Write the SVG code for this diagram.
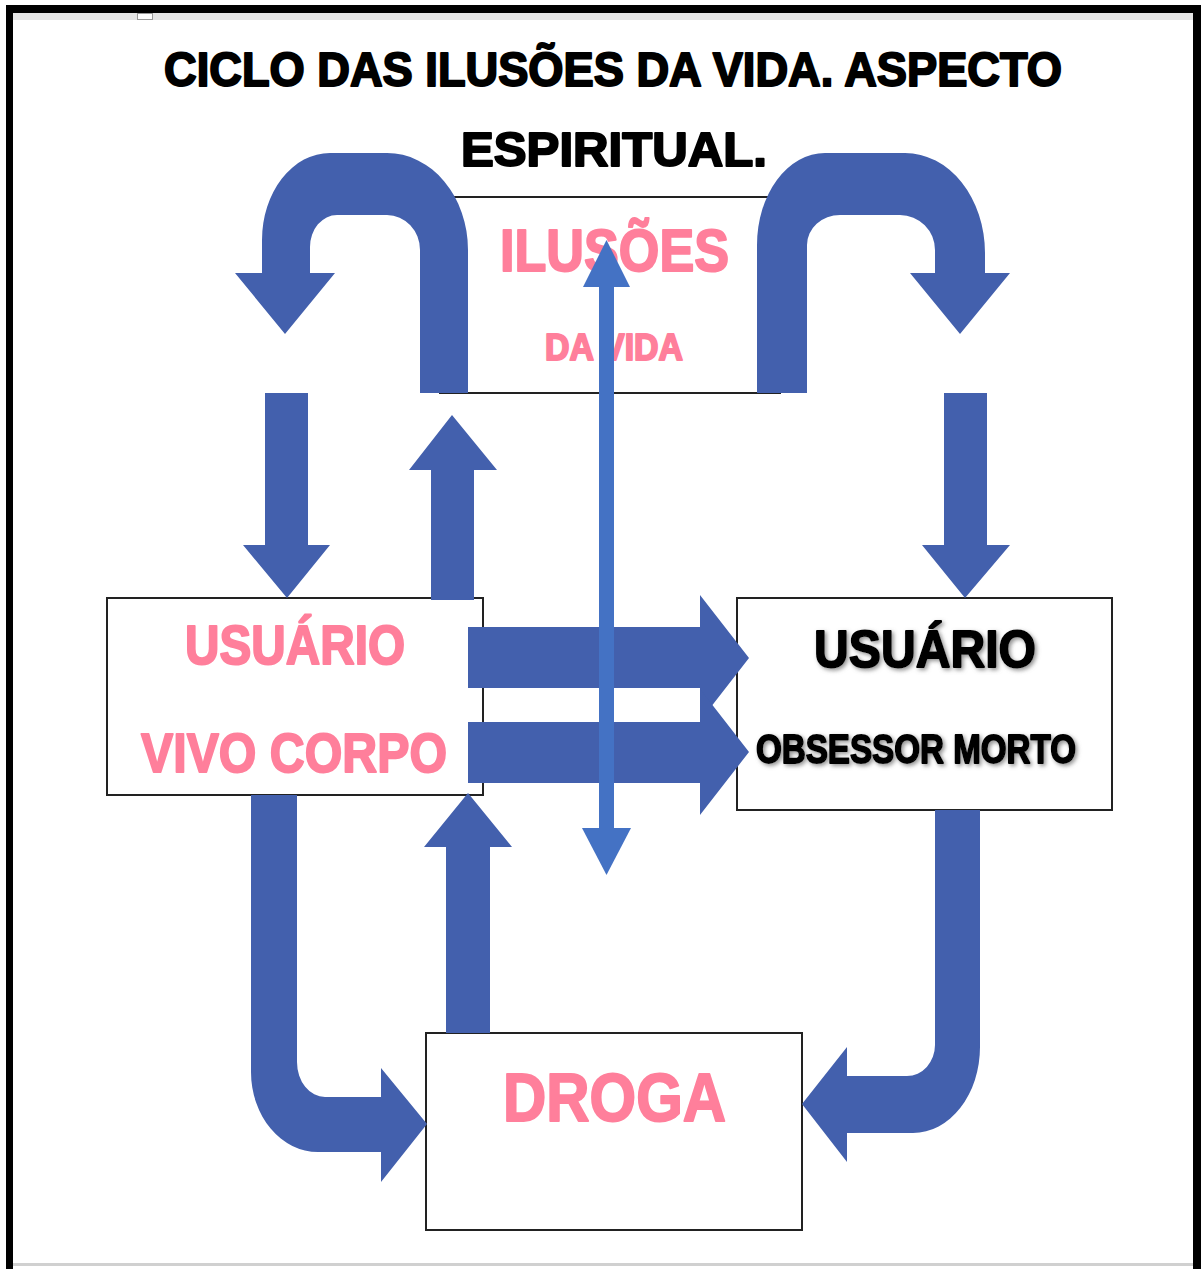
<svg xmlns="http://www.w3.org/2000/svg" width="1201" height="1269" viewBox="0 0 1201 1269">
<defs>
<style>
.t{font-family:"Liberation Sans",Arial,sans-serif;font-weight:bold;stroke-linejoin:round;}
.title{fill:#000;stroke:#000;stroke-width:2;font-size:48px;}
.pink{fill:#FF7F9B;stroke:#FF7F9B;stroke-width:2;}
.blk{fill:#000;stroke:#000;stroke-width:1.8;}
.box{fill:#fff;stroke:#222;stroke-width:2;}
.blk-arrow{fill:#4360AD;}
.dbl{fill:#4472C4;}
</style>
<filter id="sh" x="-10%" y="-30%" width="120%" height="160%">
<feDropShadow dx="2" dy="2" stdDeviation="2" flood-color="#777" flood-opacity="0.8"/>
</filter>
</defs>
<rect x="0" y="0" width="1201" height="1269" fill="#fff"/>
<!-- frame -->
<rect x="13" y="13" width="1180" height="7" fill="#e6e6e6"/>
<rect x="137.5" y="13.5" width="15" height="6" fill="#fff" stroke="#999" stroke-width="1"/>
<rect x="6" y="5" width="1195" height="8" fill="#000"/>
<rect x="6" y="5" width="7" height="1264" fill="#000"/>
<rect x="1193" y="5" width="8" height="1264" fill="#000"/>
<rect x="13" y="1263" width="1180" height="3" fill="#d0d0d0"/>

<g id="title">
<text class="t title" x="164" y="86" textLength="898" lengthAdjust="spacingAndGlyphs">CICLO DAS ILUSÕES DA VIDA. ASPECTO</text>
<text class="t title" x="461" y="166" textLength="306" lengthAdjust="spacingAndGlyphs">ESPIRITUAL.</text>
</g>

<g id="node-ilusoes">
<rect class="box" x="440" y="197" width="340" height="196"/>
<text class="t pink" x="500" y="271" font-size="60" textLength="229" lengthAdjust="spacingAndGlyphs">ILUSÕES</text>
<text class="t pink" x="545" y="360" font-size="36" textLength="138" lengthAdjust="spacingAndGlyphs">DA VIDA</text>
</g>

<g id="node-usuario-vivo">
<rect class="box" x="107" y="598" width="376" height="197"/>
<text class="t pink" x="185" y="664" font-size="55" textLength="220" lengthAdjust="spacingAndGlyphs">USUÁRIO</text>
<text class="t pink" x="141" y="772" font-size="56" textLength="306" lengthAdjust="spacingAndGlyphs">VIVO CORPO</text>
</g>

<g id="node-usuario-morto">
<rect class="box" x="737" y="598" width="375" height="212"/>
<text class="t blk" filter="url(#sh)" x="814" y="667" font-size="52" textLength="222" lengthAdjust="spacingAndGlyphs">USUÁRIO</text>
<text class="t blk" filter="url(#sh)" x="756" y="763" font-size="40" textLength="320" lengthAdjust="spacingAndGlyphs">OBSESSOR MORTO</text>
</g>

<g id="node-droga">
<rect class="box" x="426" y="1033" width="376" height="197"/>
<text class="t pink" x="503" y="1121" font-size="69" textLength="223" lengthAdjust="spacingAndGlyphs">DROGA</text>
</g>

<g id="connectors">
<!-- left U-turn -->
<path class="blk-arrow" d="M 468 393 L 468 250 A 81 97 0 0 0 387 153 L 330 153 A 68 87 0 0 0 262 240 L 262 273 L 235 273 L 285 334 L 335 273 L 310 273 L 310 247 A 27 32 0 0 1 337 215 L 387 215 A 33 35 0 0 1 420 250 L 420 393 Z"/>
<!-- right U-turn -->
<path class="blk-arrow" d="M 757 393 L 757 245 A 68 92 0 0 1 825 153 L 905 153 A 80 100 0 0 1 985 253 L 985 273 L 1010 273 L 960 334 L 910 273 L 935 273 L 935 250 A 35 35 0 0 0 900 215 L 840 215 A 33 30 0 0 0 807 245 L 807 393 Z"/>
<!-- down arrows -->
<path class="blk-arrow" d="M 265 393 L 308 393 L 308 545 L 330 545 L 287 598 L 243 545 L 265 545 Z"/>
<path class="blk-arrow" d="M 944 393 L 987 393 L 987 545 L 1010 545 L 965 598 L 922 545 L 944 545 Z"/>
<!-- up arrow left box to ilusoes -->
<path class="blk-arrow" d="M 431 600 L 431 470 L 409 470 L 452 415 L 497 470 L 474 470 L 474 600 Z"/>
<!-- horizontal arrows -->
<path class="blk-arrow" d="M 468 627 L 700 627 L 700 595 L 749 658 L 700 721 L 700 688 L 468 688 Z"/>
<path class="blk-arrow" d="M 468 722 L 700 722 L 700 689 L 749 752 L 700 815 L 700 783 L 468 783 Z"/>
<!-- up arrow droga to left box -->
<path class="blk-arrow" d="M 446 1033 L 446 847 L 424 847 L 468 793 L 512 847 L 490 847 L 490 1033 Z"/>
<!-- bottom-left L arrow -->
<path class="blk-arrow" d="M 251 795 L 251 1072 A 67 80 0 0 0 318 1152 L 381 1152 L 381 1182 L 427 1124 L 381 1068 L 381 1097 L 325 1097 A 28 35 0 0 1 297 1062 L 297 795 Z"/>
<!-- bottom-right J arrow -->
<path class="blk-arrow" d="M 980 810 L 980 1047 A 67 86 0 0 1 913 1133 L 847 1133 L 847 1162 L 802 1104 L 847 1047 L 847 1076 L 907 1076 A 28 31 0 0 0 935 1045 L 935 810 Z"/>
<!-- double-headed vertical arrow -->
<rect class="dbl" x="599" y="285" width="15" height="545"/>
<polygon class="dbl" points="583,287 606.5,240 630,287"/>
<polygon class="dbl" points="582,828 606.5,875 631,828"/>
</g>
</svg>
